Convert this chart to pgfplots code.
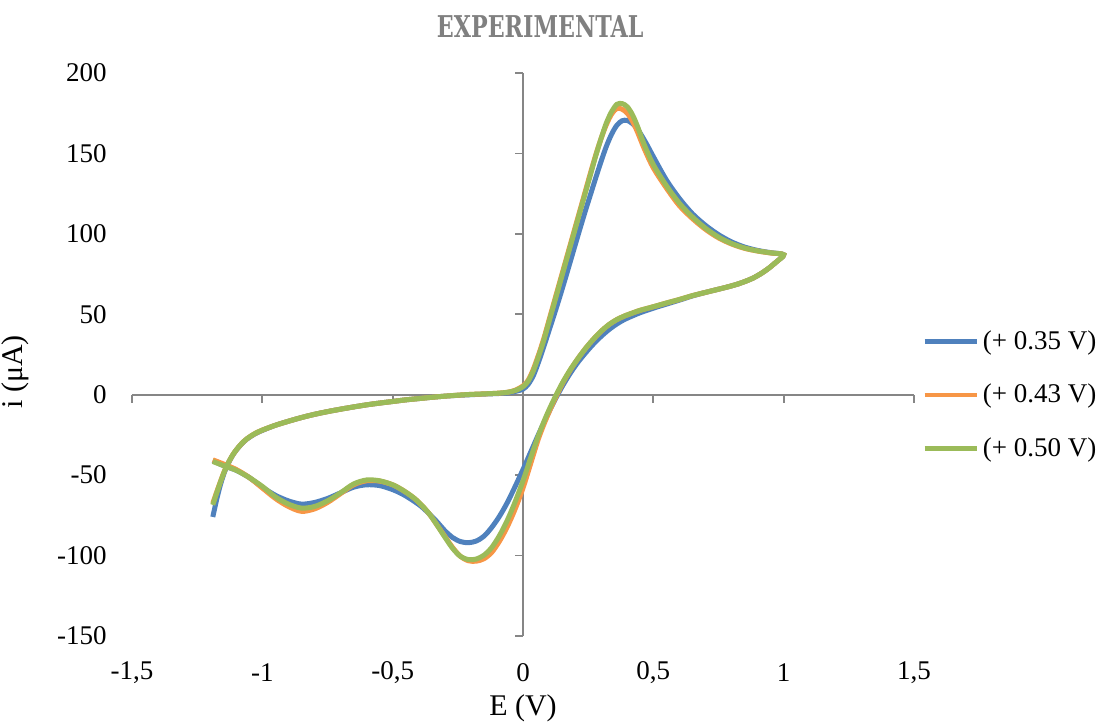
\documentclass[border=0pt]{standalone}
\usepackage{fontspec}
\setmainfont{Liberation Serif}
\newfontfamily\titlefont[FakeStretch=0.74]{DejaVu Serif}
\usepackage{pgfplots}
\usepackage{pgfplotstable}
\pgfplotsset{compat=1.18}

\definecolor{cvblue}{HTML}{4F81BD}
\definecolor{cvorange}{HTML}{F79646}
\definecolor{cvgreen}{HTML}{9BBB59}
\definecolor{axgray}{HTML}{868686}
\definecolor{titlegray}{HTML}{808080}

% (+ 0.35 V): E (V), i (uA), forward scan then back
\pgfplotstableread{
E i
-1.19 -76
-1.175 -65
-1.16 -55.5
-1.145 -48
-1.13 -42.5
-1.115 -38
-1.10 -34.5
-1.08 -30.7
-1.06 -27.7
-1.03 -24.5
-1.0 -22.2
-0.95 -19
-0.90 -16.5
-0.85 -14.2
-0.80 -12.2
-0.75 -10.5
-0.70 -9
-0.65 -7.6
-0.60 -6.3
-0.55 -5.2
-0.50 -4.2
-0.45 -3.2
-0.40 -2.4
-0.35 -1.6
-0.30 -0.9
-0.25 -0.4
-0.20 0
-0.15 0.4
-0.10 0.7
-0.06 1.1
-0.03 2
0.0 3.5
0.02 6.5
0.04 12
0.06 20.5
0.08 30
0.10 40
0.12 50
0.14 60.3
0.16 71
0.18 82
0.20 93
0.22 104
0.24 114.7
0.26 125
0.28 135.3
0.30 145.3
0.32 154.5
0.34 162
0.36 167.5
0.38 170.3
0.40 170.5
0.42 168.5
0.44 165
0.47 157
0.50 148
0.55 133.5
0.60 122
0.65 112.5
0.70 105.3
0.75 99.5
0.80 95
0.85 91.8
0.90 89.7
0.95 88.3
1.0 87
0.97 82.3
0.94 78.3
0.91 75
0.88 72.3
0.85 70.3
0.82 68.6
0.78 66.8
0.74 65.2
0.70 63.6
0.65 61.4
0.6 58.8
0.55 56.3
0.5 53.8
0.45 51
0.42 49
0.39 46.8
0.36 44
0.33 40.5
0.30 36.3
0.27 31.5
0.24 26
0.21 20
0.18 13
0.15 5
0.12 -4
0.09 -14
0.06 -24.5
0.03 -35.5
0.0 -46.5
-0.03 -57
-0.06 -67
-0.09 -75.5
-0.12 -82.5
-0.15 -88
-0.18 -91
-0.21 -92
-0.24 -91.3
-0.27 -88.8
-0.30 -84.5
-0.33 -79
-0.36 -74
-0.39 -69.5
-0.42 -66
-0.46 -62
-0.50 -59
-0.55 -56.5
-0.60 -56
-0.65 -57.5
-0.70 -61
-0.75 -64.5
-0.80 -67
-0.85 -68
-0.90 -66
-0.95 -62.5
-1.0 -57.5
-1.05 -51.5
-1.10 -47
-1.15 -44
-1.19 -41
}\cvA

% (+ 0.43 V)
\pgfplotstableread{
E i
-1.19 -67.5
-1.175 -60.5
-1.16 -53.7
-1.145 -47.3
-1.13 -42.2
-1.115 -37.8
-1.10 -34.3
-1.08 -30.5
-1.06 -27.5
-1.03 -24.3
-1.0 -22
-0.95 -19
-0.90 -16.5
-0.85 -14.2
-0.80 -12.2
-0.75 -10.5
-0.70 -9
-0.65 -7.6
-0.60 -6.3
-0.55 -5.2
-0.50 -4.2
-0.45 -3.2
-0.40 -2.4
-0.35 -1.6
-0.30 -0.9
-0.25 -0.3
-0.20 0.2
-0.15 0.5
-0.10 0.9
-0.06 1.5
-0.03 2.8
0.0 5.5
0.02 9
0.04 16
0.06 25
0.08 35
0.10 46.5
0.12 58
0.14 69.5
0.16 81
0.18 92.5
0.20 104
0.22 115.5
0.24 127
0.26 138.5
0.28 149.5
0.30 159.5
0.32 168
0.34 174.5
0.36 178
0.38 177.5
0.40 175
0.42 170
0.44 163
0.465 153
0.50 141
0.55 128.5
0.60 117.5
0.65 109.5
0.70 102.8
0.75 97.5
0.80 93.7
0.85 91
0.90 89.3
0.95 88.1
1.0 87
0.97 82.3
0.94 78.3
0.91 75
0.88 72.3
0.85 70.3
0.82 68.6
0.78 66.8
0.74 65.2
0.70 63.6
0.65 61.6
0.6 59.2
0.55 57
0.5 54.7
0.45 52.5
0.42 50.8
0.39 49
0.36 46.7
0.33 43.6
0.30 39.5
0.27 34.5
0.24 28.8
0.21 22.3
0.18 15
0.15 6.5
0.12 -3.5
0.09 -14.5
0.06 -27
0.03 -42.5
0.0 -58
-0.03 -71
-0.06 -82
-0.09 -91
-0.12 -98
-0.15 -102
-0.18 -103.5
-0.21 -103.2
-0.24 -100.5
-0.27 -95
-0.30 -88
-0.33 -81
-0.36 -74
-0.39 -68.5
-0.42 -64
-0.46 -59.5
-0.50 -56
-0.55 -53.7
-0.60 -53.5
-0.65 -56
-0.70 -61.5
-0.75 -67
-0.80 -71
-0.85 -72.5
-0.90 -69.5
-0.95 -64.5
-1.0 -58
-1.05 -51.5
-1.10 -46.5
-1.15 -43
-1.19 -40.5
}\cvB

% (+ 0.50 V)
\pgfplotstableread{
E i
-1.19 -68.5
-1.175 -61
-1.16 -54
-1.145 -47.5
-1.13 -42.2
-1.115 -37.8
-1.10 -34.3
-1.08 -30.5
-1.06 -27.5
-1.03 -24.3
-1.0 -22
-0.95 -19
-0.90 -16.5
-0.85 -14.2
-0.80 -12.2
-0.75 -10.5
-0.70 -9
-0.65 -7.6
-0.60 -6.3
-0.55 -5.2
-0.50 -4.2
-0.45 -3.2
-0.40 -2.4
-0.35 -1.6
-0.30 -0.9
-0.25 -0.3
-0.20 0.2
-0.15 0.5
-0.10 0.9
-0.06 1.5
-0.03 2.6
0.0 5
0.02 8.5
0.04 15
0.06 24
0.08 34
0.10 45.5
0.12 57
0.14 68.5
0.16 80
0.18 91.5
0.20 103
0.22 114.5
0.24 126
0.26 137.5
0.28 149
0.30 159.5
0.32 169
0.34 176
0.36 180.5
0.38 181
0.40 179
0.42 174
0.44 166.5
0.465 155.5
0.50 143
0.55 130
0.60 119
0.65 110.5
0.70 103.5
0.75 98
0.80 94
0.85 91.2
0.90 89.4
0.95 88.2
1.0 87
0.97 82.3
0.94 78.3
0.91 75
0.88 72.3
0.85 70.3
0.82 68.6
0.78 66.8
0.74 65.2
0.70 63.6
0.65 61.6
0.6 59.2
0.55 57
0.5 54.7
0.45 52.5
0.42 50.8
0.39 49
0.36 46.7
0.33 43.6
0.30 39.5
0.27 34.5
0.24 28.8
0.21 22.3
0.18 15.2
0.15 7
0.12 -2.5
0.09 -13
0.06 -25
0.03 -39
0.0 -53.5
-0.03 -66.5
-0.06 -78
-0.09 -87.5
-0.12 -95
-0.15 -99.8
-0.18 -102.2
-0.21 -102.5
-0.24 -100.5
-0.27 -95.5
-0.30 -88.5
-0.33 -81
-0.36 -74
-0.39 -68.5
-0.42 -64
-0.46 -59.5
-0.50 -56
-0.55 -53.5
-0.60 -53
-0.65 -55.5
-0.70 -61
-0.75 -66
-0.80 -69.5
-0.85 -70.5
-0.90 -68
-0.95 -63.5
-1.0 -57
-1.05 -51.5
-1.10 -47
-1.15 -44
-1.19 -41.5
}\cvC

\begin{document}
\begin{tikzpicture}
\pgfplotsset{
  cvframe/.style={
    scale only axis,
    width=391pt, height=281.5pt,
    xmin=-1.5, xmax=1.5, ymin=-150, ymax=200,
    enlargelimits=false,
    xtick={-1.5,-1,-0.5,0,0.5,1,1.5},
    ytick={-150,-100,-50,0,50,100,150,200},
  },
}
% axis lines through the origin, with the curves and the legend
\begin{axis}[
    cvframe,
    axis lines=middle,
    axis line style={-, draw=axgray, line width=0.9pt},
    tick style={draw=axgray, line width=0.9pt},
    tick align=outside,
    major tick length=4pt,
    hide obscured x ticks=false,
    hide obscured y ticks=false,
    xticklabels={}, yticklabels={},
    legend style={at={(axis description cs:1.01,0.428)}, anchor=west,
      draw=none, fill=none, inner sep=0pt, row sep=12pt,
      font=\fontsize{13.5}{15}\selectfont},
    legend cell align=left,
    legend image code/.code={\draw[#1, line width=2.3pt] (0pt,0pt) -- (26pt,0pt);},
]
\coordinate (bl) at (rel axis cs:0,0);
\addplot[cvblue, line width=2.5pt, smooth] table[x=E, y=i] {\cvA};
\addlegendentry{(+ 0.35 V)}
\addplot[cvorange, line width=2.5pt, smooth] table[x=E, y=i] {\cvB};
\addlegendentry{(+ 0.43 V)}
\addplot[cvgreen, line width=2.5pt, smooth] table[x=E, y=i] {\cvC};
\addlegendentry{(+ 0.50 V)}
\end{axis}
% tick labels at the edges of the plot area, axis labels and title
\begin{axis}[
    cvframe,
    clip=false,
    axis x line*=bottom, axis y line*=left,
    axis line style={draw=none},
    major tick length=0pt,
    /pgf/number format/.cd, use comma, assume math mode=true,
    /pgfplots/.cd,
    tick label style={font=\fontsize{13.5}{15}\selectfont, inner sep=0pt},
    xticklabel style={anchor=center, yshift=-18.5pt},
    yticklabel style={anchor=east, xshift=-12.5pt},
    xlabel={E (V)}, ylabel={i (μA)},
    label style={font=\fontsize{15}{17}\selectfont},
    xlabel style={at={(axis description cs:0.5,0)}, anchor=center, yshift=-36pt},
    ylabel style={at={(axis description cs:-0.1496,0.469)}, anchor=center},
]
\node[font=\titlefont\bfseries\fontsize{15}{17}\selectfont, text=titlegray]
  at (rel axis cs:0.522,1) [yshift=23pt] {EXPERIMENTAL};
\end{axis}
\pgfresetboundingbox
\path (bl) ++(-66pt,-43pt) rectangle ++(551pt,361pt);
\end{tikzpicture}
\end{document}
